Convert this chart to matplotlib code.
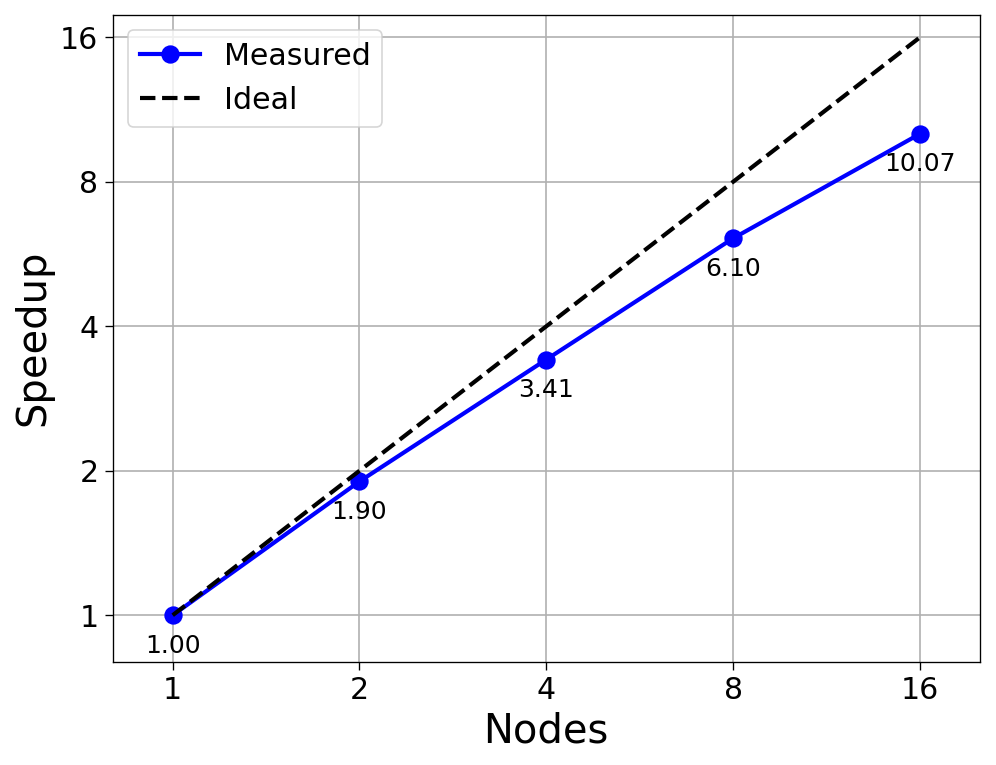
import numpy as np
import matplotlib
matplotlib.use("Agg")
import matplotlib.pyplot as plt
from matplotlib.ticker import FixedLocator, FixedFormatter, NullLocator

nodes = [1, 2, 4, 8, 16]
speedup = [1.00, 1.90, 3.41, 6.10, 10.07]
ideal = [1, 2, 4, 8, 16]
tick_labels = ["1", "2", "4", "8", "16"]

fig, ax = plt.subplots(figsize=(8.3, 6.375), dpi=120)
fig.subplots_adjust(left=0.113, right=0.984, top=0.981, bottom=0.135)

ax.plot(nodes, speedup, "o-", color="blue", lw=2.5, ms=10, label="Measured")
ax.plot(nodes, ideal, "--", color="black", lw=2.5, label="Ideal")

for n, s in zip(nodes, speedup):
    ax.annotate(f"{s:.2f}", (n, s), xytext=(0, -11), textcoords="offset points",
                ha="center", va="top", fontsize=15)

ax.set_xscale("log", base=2)
ax.set_yscale("log", base=2)
ax.set_xlim(0.8, 20)
ax.set_ylim(0.8, 17.85)
for axis in (ax.xaxis, ax.yaxis):
    axis.set_major_locator(FixedLocator(nodes))
    axis.set_major_formatter(FixedFormatter(tick_labels))
    axis.set_minor_locator(NullLocator())
ax.tick_params(labelsize=18, length=5)
ax.set_xlabel("Nodes", fontsize=24)
ax.set_ylabel("Speedup", fontsize=24)
ax.grid(True, color="#b0b0b0", lw=1)
ax.legend(loc="upper left", fontsize=18)

fig.savefig("out.png")
